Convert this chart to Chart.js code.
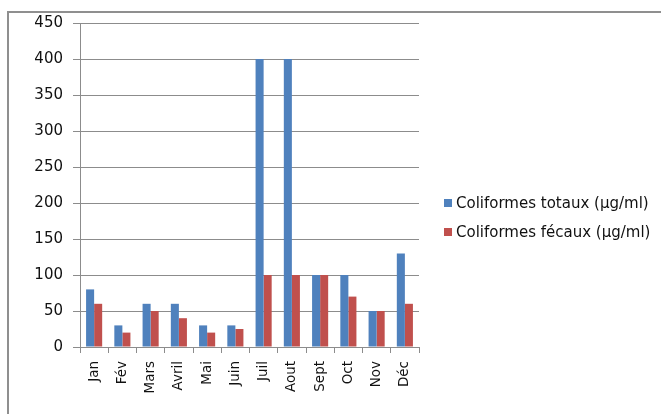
<!DOCTYPE html>
<html>
<head>
<meta charset="utf-8">
<script src="https://cdn.jsdelivr.net/npm/chart.js@4.4.1/dist/chart.umd.min.js"></script>
<style>
    html, body { margin: 0; padding: 0; background: #fff; overflow: hidden; }
    #frame {
        position: absolute; left: 7px; top: 11px; width: 700px; height: 450px;
        border-left: 2px solid #8f8f8f; border-top: 2px solid #8f8f8f;
    }
    #wrap { position: absolute; left: 0; top: 0; width: 661px; height: 414px; }
</style>
</head>
<body>
<div id="frame"></div>
<div id="wrap"><canvas id="chart" width="661" height="414"></canvas></div>
<script>
// Monthly coliform counts
const months = ['Jan', 'Fév', 'Mars', 'Avril', 'Mai', 'Juin', 'Juil', 'Aout', 'Sept', 'Oct', 'Nov', 'Déc'];
const totaux = [80, 30, 60, 60, 30, 30, 400, 400, 100, 100, 50, 130];
const fecaux = [60, 20, 50, 40, 20, 25, 100, 100, 100, 70, 50, 60];
const seriesNames = ['Coliformes totaux (µg/ml)', 'Coliformes fécaux (µg/ml)'];
const yTicks = [0, 50, 100, 150, 200, 250, 300, 350, 400, 450];

const FONT = '"DejaVu Sans", sans-serif';
const GRID = '#8c8c8c';

// legend drawn to the right of the plot area
const sideLegend = {
    id: 'sideLegend',
    afterDraw(chart) {
        const ctx = chart.ctx;
        ctx.save();
        ctx.font = `15px ${FONT}`;
        ctx.textBaseline = 'middle';
        chart.data.datasets.forEach((ds, i) => {
            const y = 203 + i * 29;
            ctx.fillStyle = ds.backgroundColor;
            ctx.fillRect(444, y - 4, 8, 8);
            ctx.fillStyle = '#111';
            ctx.fillText(ds.label, 456, y + 1);
        });
        ctx.restore();
    }
};

new Chart(document.getElementById('chart'), {
    type: 'bar',
    data: {
        labels: months,
        datasets: [{
            label: seriesNames[0],
            data: totaux,
            backgroundColor: '#4f81bd',
            categoryPercentage: 0.57,
            barPercentage: 1,
        }, {
            label: seriesNames[1],
            data: fecaux,
            backgroundColor: '#c0504d',
            categoryPercentage: 0.57,
            barPercentage: 1,
        }],
    },
    options: {
        responsive: false,
        animation: false,
        layout: { padding: { left: 20, top: 23, right: 242, bottom: 0 } },
        plugins: {
            legend: { display: false },
            tooltip: { enabled: false },
        },
        scales: {
            x: {
                grid: { drawOnChartArea: false, color: GRID, tickLength: 6, offset: true },
                border: { color: GRID, width: 1 },
                ticks: {
                    color: '#111', font: { family: FONT, size: 13.5 },
                    minRotation: 90, maxRotation: 90, padding: 8,
                },
                afterFit: s => { s.height = 67; },
            },
            y: {
                min: 0, max: 450,
                afterBuildTicks: s => { s.ticks = yTicks.map(v => ({ value: v })); },
                grid: { color: GRID, tickLength: 7 },
                border: { color: GRID, width: 1 },
                ticks: { color: '#111', font: { family: FONT, size: 15 }, padding: 10 },
                afterFit: s => { s.width = 60; },
            },
        },
    },
    plugins: [sideLegend],
});
</script>
</body>
</html>
